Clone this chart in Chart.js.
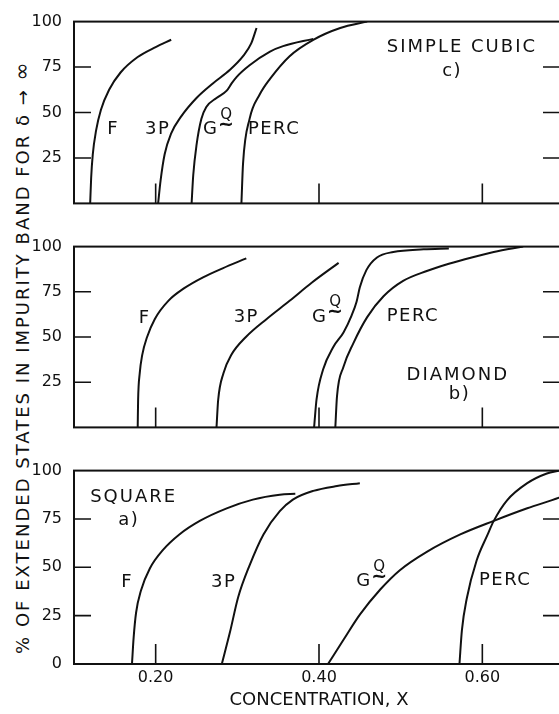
<!DOCTYPE html>
<html>
<head>
<meta charset="utf-8">
<script src="https://cdn.jsdelivr.net/npm/chart.js@4.4.1/dist/chart.umd.min.js"></script>
<style>
  html, body { margin: 0; padding: 0; background: #fff; overflow: hidden; width: 559px; height: 714px; }
  canvas { position: absolute; left: 0; }
  #ytitle {
    position: absolute; left: -301px; top: 347px; width: 640px; height: 20px; line-height: 20px;
    text-align: center; transform: rotate(-90deg); white-space: nowrap;
    font: 18px "DejaVu Sans"; letter-spacing: 2px; color: #111;
  }
  #ytitle span { font-size: 22px; }
</style>
</head>
<body>
<div id="ytitle">% OF EXTENDED STATES IN IMPURITY BAND FOR δ → <span>∞</span></div>
<canvas id="cubic" width="580" height="225" style="top:0"></canvas>
<canvas id="diamond" width="580" height="224" style="top:225px"></canvas>
<canvas id="square" width="580" height="265" style="top:449px"></canvas>
<script>
const xTicks = [0.2, 0.4, 0.6];
const yTicks = [0, 25, 50, 75, 100];

// c) simple cubic : [concentration, % extended]
const cubicF = [[0.1198, 0], [0.121, 14], [0.123, 27], [0.127, 40], [0.133, 51.5], [0.143, 62.5], [0.157, 72], [0.178, 80.5], [0.200, 86], [0.219, 90]];
const cubic3P = [[0.203, 0], [0.206, 12.5], [0.211, 27], [0.219, 38.5], [0.2315, 48], [0.250, 58], [0.270, 66], [0.291, 73.5], [0.307, 81], [0.317, 88], [0.3235, 96.5]];
const cubicG = [[0.244, 0], [0.246, 15.5], [0.250, 32], [0.256, 46.5], [0.262, 53], [0.2745, 58], [0.287, 62], [0.293, 66], [0.299, 69.5], [0.315, 76], [0.340, 83.5], [0.356, 86.5], [0.393, 90.5]];
const cubicPerc = [[0.305, 0], [0.307, 22], [0.315, 46.5], [0.3275, 60], [0.340, 68.5], [0.364, 81], [0.393, 90], [0.426, 96.5], [0.459, 100]];

// b) diamond
const diamondF = [[0.178, 0], [0.1785, 15], [0.1805, 30], [0.1835, 40], [0.1895, 50], [0.199, 60], [0.2155, 70], [0.235, 77], [0.258, 83], [0.282, 88], [0.311, 93.5]];
const diamond3P = [[0.2745, 0], [0.2765, 15], [0.283, 30], [0.2925, 40], [0.3105, 50], [0.336, 60], [0.364, 70], [0.391, 80], [0.424, 91]];
const diamondG = [[0.394, 0], [0.397, 15.5], [0.405, 32], [0.4175, 44.5], [0.430, 52.5], [0.440, 62], [0.446, 69.5], [0.450, 77.5], [0.458, 87], [0.471, 94], [0.491, 97], [0.528, 98.5], [0.559, 99]];
const diamondPerc = [[0.420, 0], [0.422, 17], [0.430, 33.5], [0.442, 46.5], [0.459, 61], [0.479, 72.5], [0.503, 81], [0.532, 86.5], [0.559, 90.5], [0.587, 94], [0.614, 97], [0.650, 100]];

// a) square
const squareF = [[0.171, 0], [0.173, 13.5], [0.176, 26.5], [0.182, 38], [0.193, 49.5], [0.209, 59], [0.229, 67], [0.254, 74], [0.287, 80.5], [0.319, 85], [0.352, 87.5], [0.371, 88]];
const square3P = [[0.281, 0], [0.291, 16.5], [0.301, 34.5], [0.315, 51], [0.332, 67], [0.352, 79], [0.368, 85], [0.393, 89.5], [0.422, 92], [0.450, 93.5]];
const squareG = [[0.411, 0], [0.430, 12.5], [0.450, 25.5], [0.475, 38.5], [0.499, 48.5], [0.532, 58], [0.573, 67], [0.614, 74], [0.655, 80.5], [0.694, 86], [0.700, 87]];
const squarePerc = [[0.572, 0], [0.575, 17.5], [0.581, 34], [0.593, 53.5], [0.606, 66.5], [0.614, 74], [0.630, 84.5], [0.655, 93.5], [0.679, 98.5], [0.694, 100]];

// text placed in data coordinates, 'GQ' is the G~Q label
const cubicText = [['F', 0.148, 40.5], ['3P', 0.2025, 40.5], ['GQ', 0.2675, 40.5], ['PERC', 0.345, 40.5], ['SIMPLE CUBIC', 0.575, 86], ['c)', 0.563, 72.5]];
const diamondText = [['F', 0.1865, 60.5], ['3P', 0.311, 61], ['GQ', 0.401, 61], ['PERC', 0.515, 61.5], ['DIAMOND', 0.570, 29], ['b)', 0.572, 18.5]];
const squareText = [['SQUARE', 0.173, 86], ['a)', 0.167, 74.5], ['F', 0.165, 42], ['3P', 0.2834, 42], ['GQ', 0.455, 42.5], ['PERC', 0.628, 43.5]];

const INK = '#111';
const FONT = 'DejaVu Sans';

const framePlugin = {
  id: 'frame',
  afterDraw(chart) {
    const { ctx, chartArea: a, scales: { x, y } } = chart;
    ctx.save();
    ctx.strokeStyle = INK;
    ctx.lineWidth = 2;
    ctx.strokeRect(a.left, a.top, a.right - a.left, a.bottom - a.top);
    ctx.lineWidth = 1.6;
    ctx.beginPath();
    xTicks.forEach(v => {
      const px = x.getPixelForValue(v);
      ctx.moveTo(px, a.bottom);
      ctx.lineTo(px, a.bottom - 20);
    });
    [25, 50, 75].forEach(v => {
      const py = y.getPixelForValue(v);
      ctx.moveTo(a.left, py);
      ctx.lineTo(a.left + 17, py);
      ctx.moveTo(a.right, py);
      ctx.lineTo(a.right - 21, py);
    });
    ctx.stroke();
    ctx.restore();
  }
};

function textPlugin(items) {
  return {
    id: 'panelText',
    afterDraw(chart) {
      const { ctx, scales: { x, y } } = chart;
      ctx.save();
      ctx.fillStyle = INK;
      ctx.textAlign = 'center';
      ctx.textBaseline = 'middle';
      items.forEach(([t, vx, vy]) => {
        const px = x.getPixelForValue(vx);
        const py = y.getPixelForValue(vy);
        ctx.font = '18px "' + FONT + '"';
        ctx.letterSpacing = t.length > 4 ? '2px' : '1.5px';
        if (t === 'GQ') {
          ctx.fillText('G', px, py);
          ctx.font = '15px "' + FONT + '"';
          ctx.fillText('Q', px + 16, py - 15);
          ctx.font = 'bold 19px "' + FONT + '"';
          ctx.fillText('~', px + 16, py - 5);
        } else {
          ctx.fillText(t, px, py);
        }
      });
      ctx.restore();
    }
  };
}

function makePanel(id, curves, text, bottom) {
  return new Chart(document.getElementById(id), {
    type: 'line',
    data: {
      datasets: curves.map(c => ({
        data: c.map(p => ({ x: p[0], y: p[1] })),
        borderColor: INK,
        borderWidth: 2,
        pointRadius: 0,
        cubicInterpolationMode: 'monotone',
        fill: false
      }))
    },
    options: {
      responsive: false,
      animation: false,
      events: [],
      layout: { padding: { left: 0, right: 16, top: 11, bottom: 0 } },
      plugins: { legend: { display: false }, tooltip: { enabled: false } },
      scales: {
        x: {
          type: 'linear',
          min: 0.1,
          max: 0.7,
          afterBuildTicks: s => { s.ticks = xTicks.map(v => ({ value: v })); },
          afterFit: s => { s.height = bottom ? 50 : 10; },
          grid: { display: false, drawTicks: false },
          border: { display: false },
          ticks: {
            display: bottom,
            padding: 4,
            color: INK,
            font: { family: FONT, size: 16 },
            maxRotation: 0,
            callback: v => v.toFixed(2)
          },
          title: {
            display: bottom,
            text: 'CONCENTRATION, X',
            color: INK,
            font: { family: FONT, size: 18 },
            padding: { top: 0, bottom: 3 }
          }
        },
        y: {
          min: 0,
          max: 100,
          afterBuildTicks: s => { s.ticks = yTicks.map(v => ({ value: v })); },
          afterFit: s => { s.width = 74; },
          grid: { display: false, drawTicks: false },
          border: { display: false },
          ticks: {
            padding: 12,
            color: INK,
            font: { family: FONT, size: 16 },
            callback: v => (v === 0 && !bottom) ? '' : String(v)
          }
        }
      }
    },
    plugins: [framePlugin, textPlugin(text)]
  });
}

makePanel('cubic', [cubicF, cubic3P, cubicG, cubicPerc], cubicText, false);
makePanel('diamond', [diamondF, diamond3P, diamondG, diamondPerc], diamondText, false);
makePanel('square', [squareF, square3P, squareG, squarePerc], squareText, true);
</script>
</body>
</html>
